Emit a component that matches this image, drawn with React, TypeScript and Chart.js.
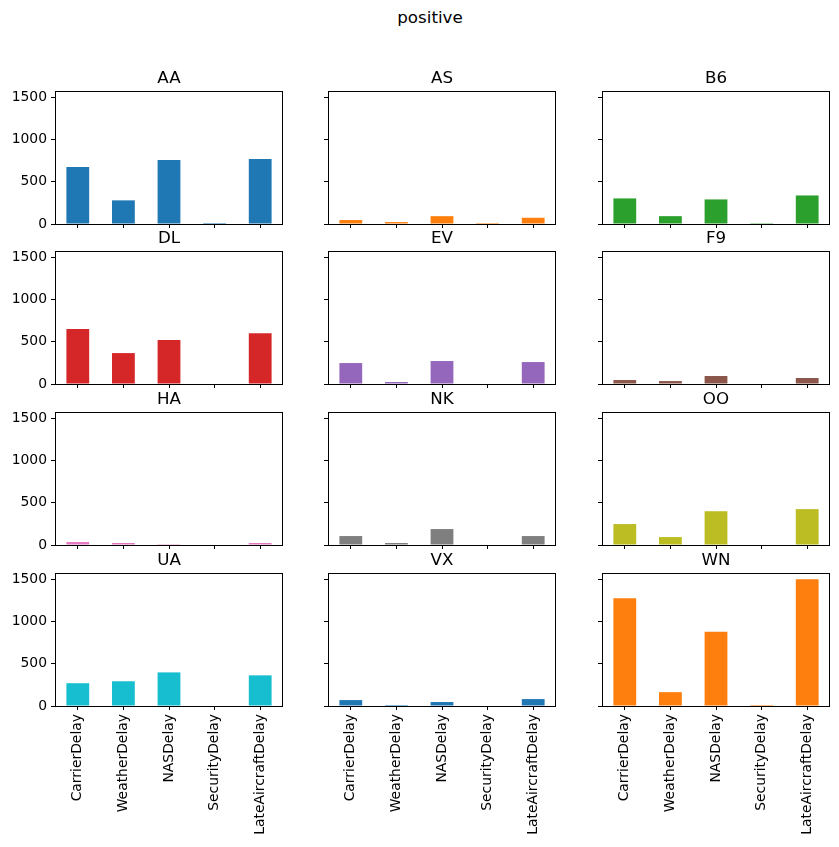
import React, { useEffect, useRef } from "react";
import { Chart, registerables } from "chart.js";

Chart.register(...registerables);

const suptitle = "positive";
const categories = ["CarrierDelay", "WeatherDelay", "NASDelay", "SecurityDelay", "LateAircraftDelay"];
const carriers = ["AA", "AS", "B6", "DL", "EV", "F9", "HA", "NK", "OO", "UA", "VX", "WN"];

const AA = [676, 280, 758, 12, 769];
const AS = [47, 23, 93, 12, 74];
const B6 = [303, 93, 291, 10, 338];
const DL = [650, 366, 520, 0, 602];
const EV = [248, 24, 272, 0, 260];
const F9 = [47, 35, 95, 0, 71];
const HA = [35, 24, 2, 0, 24];
const NK = [106, 24, 189, 0, 106];
const OO = [248, 94, 400, 0, 425];
const UA = [270, 293, 398, 0, 363];
const VX = [70, 12, 47, 0, 82];
const WN = [1277, 164, 879, 12, 1500];

const seriesList = [AA, AS, B6, DL, EV, F9, HA, NK, OO, UA, VX, WN];
const colors = [
  "#1f77b4", "#ff7f0e", "#2ca02c", "#d62728", "#9467bd", "#8c564b",
  "#e377c2", "#7f7f7f", "#bcbd22", "#17becf", "#1f77b4", "#ff7f0e",
];

const yTicks = [0, 500, 1000, 1500];
const yMax = 1575;

const FONT = "DejaVu Sans";
const colLefts = [55, 328, 602];
const rowTops = [91, 251, 412, 573];
const plotW = 228;
const plotH = 133;
const leftSpace = 55;
const topSpace = 30;
const rightSpace = 6;

const framePlugin = {
  id: "frameAndTitle",
  afterDraw(chart: any, _args: any, opts: any) {
    const { ctx, chartArea } = chart;
    const left = Math.round(chartArea.left);
    const top = Math.round(chartArea.top);
    const right = Math.round(chartArea.right);
    const bottom = Math.round(chartArea.bottom);
    ctx.save();
    ctx.strokeStyle = "#000";
    ctx.lineWidth = 1;
    ctx.strokeRect(left + 0.5, top + 0.5, right - left - 1, bottom - top);
    ctx.fillStyle = "#000";
    ctx.font = `16.7px "${FONT}"`;
    ctx.textAlign = "center";
    ctx.textBaseline = "alphabetic";
    ctx.fillText(opts.text || "", (left + right) / 2, top - 8);
    ctx.restore();
  },
};

function Panel({ idx }: { idx: number }) {
  const ref = useRef<HTMLCanvasElement | null>(null);
  const row = Math.floor(idx / 3);
  const col = idx % 3;
  const isBottom = row === 3;
  const isLeft = col === 0;
  const bottomSpace = isBottom ? 140 : 20;
  const width = leftSpace + plotW + rightSpace;
  const height = topSpace + plotH + bottomSpace;

  useEffect(() => {
    if (!ref.current) return;
    const chart = new Chart(ref.current, {
      type: "bar",
      data: {
        labels: categories,
        datasets: [
          {
            data: seriesList[idx],
            backgroundColor: colors[idx],
            borderWidth: 0,
            borderSkipped: false,
            inflateAmount: 0,
            categoryPercentage: 1,
            barPercentage: 0.5,
          },
        ],
      },
      plugins: [framePlugin],
      options: {
        animation: false,
        responsive: false,
        maintainAspectRatio: false,
        devicePixelRatio: 1,
        layout: { padding: { top: topSpace, right: rightSpace, left: 0, bottom: 0 } },
        plugins: {
          legend: { display: false },
          tooltip: { enabled: false },
          title: { display: false },
          frameAndTitle: { text: carriers[idx] },
        } as any,
        scales: {
          x: {
            type: "category",
            offset: true,
            border: { display: false },
            grid: {
              display: true,
              offset: false,
              drawOnChartArea: false,
              drawTicks: true,
              tickLength: 4,
              color: "#000",
              lineWidth: 1,
            },
            ticks: {
              display: isBottom,
              autoSkip: false,
              minRotation: 90,
              maxRotation: 90,
              padding: 4,
              color: "#000",
              font: { family: FONT, size: 13.9 },
            },
            afterFit(scale: any) {
              scale.height = bottomSpace;
            },
          },
          y: {
            type: "linear",
            min: 0,
            max: yMax,
            border: { display: false },
            grid: {
              display: true,
              drawOnChartArea: false,
              drawTicks: true,
              tickLength: 4,
              color: "#000",
              lineWidth: 1,
            },
            ticks: {
              padding: 4,
              color: "#000",
              font: { family: FONT, size: 13.9 },
              callback: (v: any) => (isLeft ? String(v) : ""),
            },
            afterBuildTicks(scale: any) {
              scale.ticks = yTicks.map((v) => ({ value: v }));
            },
            afterFit(scale: any) {
              scale.width = leftSpace;
            },
          },
        },
      } as any,
    });
    return () => chart.destroy();
  }, [idx]);

  return (
    <canvas
      ref={ref}
      width={width}
      height={height}
      style={{
        position: "absolute",
        left: colLefts[col] - leftSpace,
        top: rowTops[row] - topSpace,
        width,
        height,
      }}
    />
  );
}

export default function App() {
  return (
    <div
      style={{
        position: "absolute",
        left: 0,
        top: 0,
        width: 839,
        height: 847,
        background: "#fff",
        overflow: "hidden",
      }}
    >
      <div
        style={{
          position: "absolute",
          left: 330,
          width: 200,
          top: 7,
          textAlign: "center",
          fontFamily: FONT,
          fontSize: "16.7px",
          lineHeight: "20px",
          color: "#000",
        }}
      >
        {suptitle}
      </div>
      {carriers.map((_, i) => (
        <Panel key={i} idx={i} />
      ))}
    </div>
  );
}
